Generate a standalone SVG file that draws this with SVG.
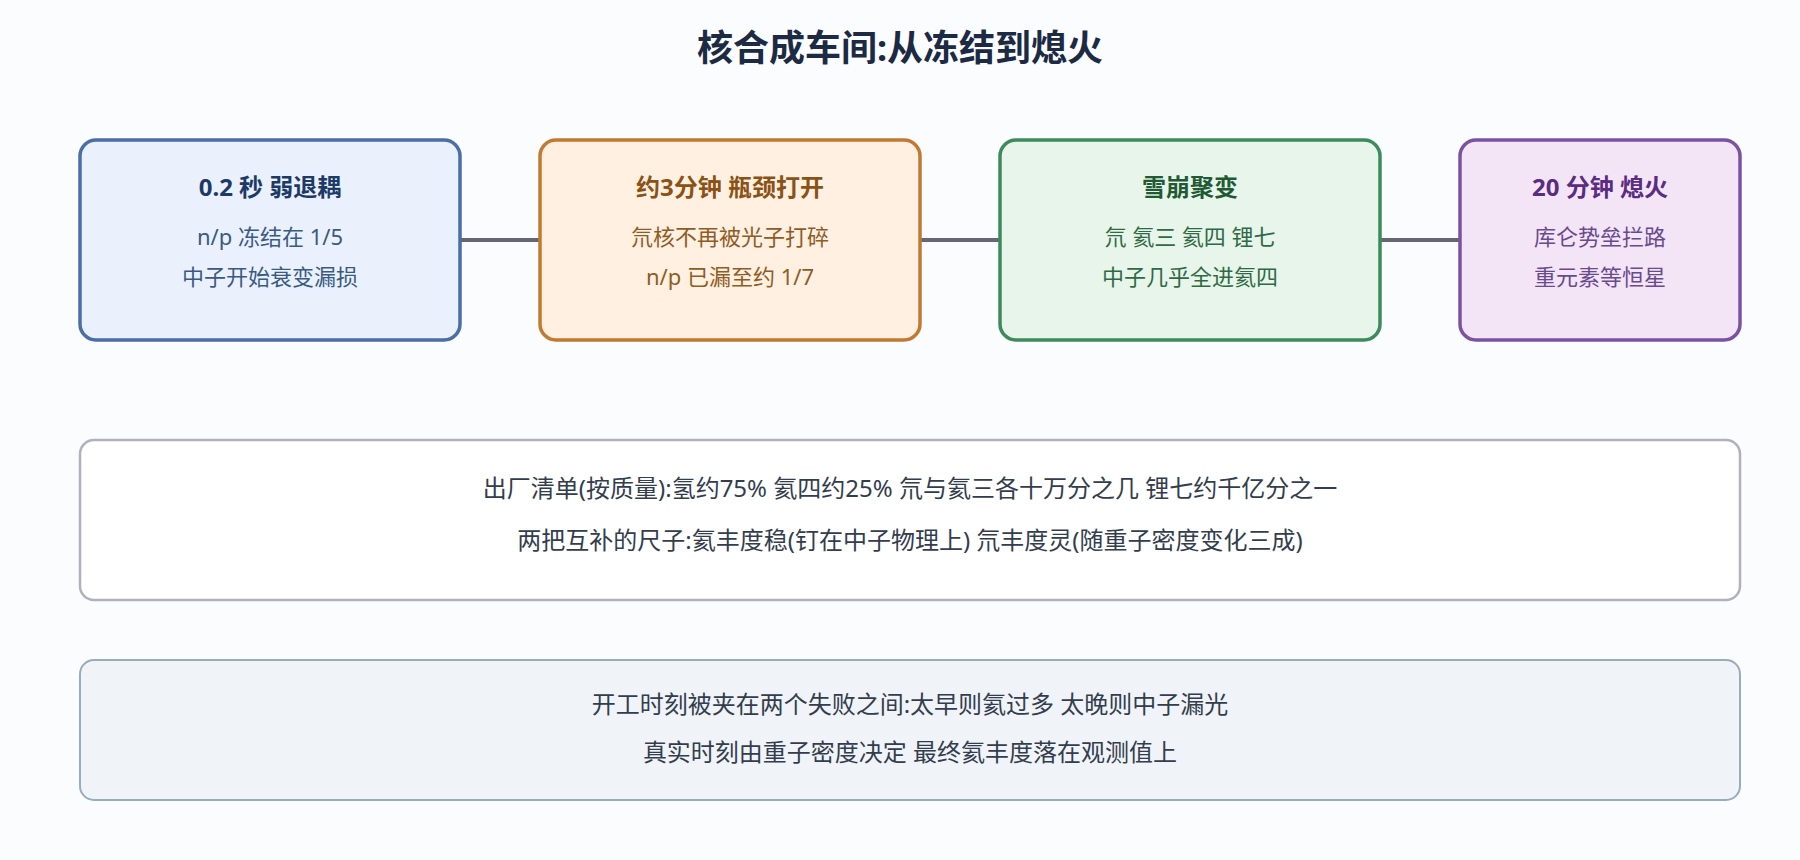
<svg xmlns="http://www.w3.org/2000/svg" width="1800" height="860" viewBox="0 0 1800 860">
<style>
text{font-family:"Noto Sans","Noto Sans CJK SC",sans-serif;text-anchor:middle}
.title{font-size:36px;font-weight:700;fill:#1c2a44}
.nt{font-size:24px;font-weight:700}
.ns{font-size:22px}
.bt{font-size:24px;fill:#333d4d}
.node rect{stroke-width:3.5}
.conn{stroke:#666677;stroke-width:4;fill:none}
</style>
<rect x="0" y="0" width="1800" height="860" fill="#fafcfe"/>
<text class="title" x="900" y="61">核合成车间:从冻结到熄火</text>
<g id="connectors">
<line class="conn" x1="460" y1="240" x2="540" y2="240"/>
<line class="conn" x1="920" y1="240" x2="1000" y2="240"/>
<line class="conn" x1="1380" y1="240" x2="1460" y2="240"/>
</g>
<g id="node1" class="node">
<rect x="80" y="140" width="380" height="200" rx="16" fill="#eaf1fc" stroke="#4a6ea5"/>
<text class="nt" x="270" y="196" fill="#1d3a66">0.2 秒 弱退耦</text>
<text class="ns" x="270" y="245" fill="#3a5a82">n/p 冻结在 1/5</text>
<text class="ns" x="270" y="285" fill="#3a5a82">中子开始衰变漏损</text>
</g>
<g id="node2" class="node">
<rect x="540" y="140" width="380" height="200" rx="16" fill="#fff0e2" stroke="#c17a32"/>
<text class="nt" x="730" y="196" fill="#8a5215">约3分钟 瓶颈打开</text>
<text class="ns" x="730" y="245" fill="#8f5c24">氘核不再被光子打碎</text>
<text class="ns" x="730" y="285" fill="#8f5c24">n/p 已漏至约 1/7</text>
</g>
<g id="node3" class="node">
<rect x="1000" y="140" width="380" height="200" rx="16" fill="#e7f5ea" stroke="#3f8a5c"/>
<text class="nt" x="1190" y="196" fill="#1f5a35">雪崩聚变</text>
<text class="ns" x="1190" y="245" fill="#2f6a45">氘 氦三 氦四 锂七</text>
<text class="ns" x="1190" y="285" fill="#2f6a45">中子几乎全进氦四</text>
</g>
<g id="node4" class="node">
<rect x="1460" y="140" width="280" height="200" rx="16" fill="#f3e5f6" stroke="#7b52a2"/>
<text class="nt" x="1600" y="196" fill="#5a2c82">20 分钟 熄火</text>
<text class="ns" x="1600" y="245" fill="#6a4a8e">库仑势垒拦路</text>
<text class="ns" x="1600" y="285" fill="#6a4a8e">重元素等恒星</text>
</g>
<g id="summary">
<rect x="80" y="440" width="1660" height="160" rx="14" fill="#ffffff" stroke="#b0b0be" stroke-width="2.5"/>
<text class="bt" x="910" y="497">出厂清单(按质量):氢约75% 氦四约25% 氘与氦三各十万分之几 锂七约千亿分之一</text>
<text class="bt" x="910" y="549">两把互补的尺子:氦丰度稳(钉在中子物理上) 氘丰度灵(随重子密度变化三成)</text>
</g>
<g id="note">
<rect x="80" y="660" width="1660" height="140" rx="14" fill="#f0f4f8" stroke="#9aabbd" stroke-width="2"/>
<text class="bt" x="910" y="713">开工时刻被夹在两个失败之间:太早则氦过多 太晚则中子漏光</text>
<text class="bt" x="910" y="761">真实时刻由重子密度决定 最终氦丰度落在观测值上</text>
</g>
</svg>
